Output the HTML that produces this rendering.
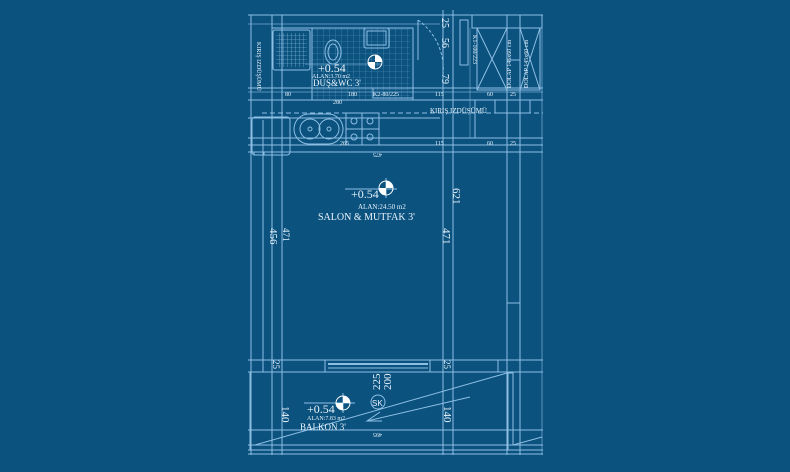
<!DOCTYPE html>
<html><head><meta charset="utf-8"><style>
html,body{margin:0;padding:0;background:#0b527f;}
svg{display:block}
text{font-family:"Liberation Serif",serif;fill:#e8f3fb}
.s{font-family:"Liberation Sans",sans-serif}
</style></head><body>
<svg width="790" height="472" viewBox="0 0 790 472" xmlns="http://www.w3.org/2000/svg">
<defs>
<pattern id="tile" width="6" height="6" patternUnits="userSpaceOnUse"><path d="M6 0V6M0 6H6" stroke="#7fb8e0" stroke-width="0.6" fill="none" opacity="0.7"/></pattern>
<pattern id="tile2" width="4" height="4" patternUnits="userSpaceOnUse"><path d="M4 0V4M0 4H4" stroke="#a8d4f2" stroke-width="0.6" fill="none"/></pattern>
</defs>
<rect width="790" height="472" fill="#0b527f"/>
<g stroke="#9ccbee" stroke-width="1" fill="none" opacity="0.9">
<line x1="248" y1="15" x2="543" y2="15"/>
<line x1="248" y1="24" x2="440" y2="24" opacity="0.6"/>
<line x1="251" y1="15" x2="251" y2="455"/>
<line x1="263" y1="120" x2="263" y2="360"/>
<line x1="272" y1="15" x2="272" y2="455"/>
<line x1="282" y1="15" x2="282" y2="455"/>
<line x1="443" y1="10" x2="443" y2="455"/>
<line x1="453" y1="10" x2="453" y2="455"/>
<line x1="507" y1="15" x2="507" y2="455"/>
<line x1="520" y1="15" x2="520" y2="455"/>
<line x1="542" y1="15" x2="542" y2="455" opacity="0.6"/>
<line x1="248" y1="88" x2="543" y2="88"/>
<line x1="248" y1="92" x2="543" y2="92" opacity="0.6"/>
<line x1="248" y1="100" x2="543" y2="100"/>
<line x1="262" y1="113" x2="543" y2="113" stroke-dasharray="5 3"/>
<line x1="248" y1="118" x2="440" y2="118"/>
<line x1="248" y1="138" x2="543" y2="138"/>
<line x1="248" y1="145" x2="543" y2="145"/>
<line x1="248" y1="152" x2="543" y2="152"/>
<rect x="272" y="28" width="141" height="72"/>
<rect x="312" y="28" width="98" height="72" fill="url(#tile)" stroke="none"/>
<line x1="312" y1="28" x2="312" y2="100"/>
<rect x="273" y="30" width="37" height="40" rx="2"/>
<rect x="276" y="33" width="31" height="34" fill="url(#tile2)" stroke="none"/>
<ellipse cx="333" cy="52" rx="8" ry="12"/>
<ellipse cx="333" cy="52" rx="5" ry="8"/>
<rect x="364" y="28" width="25" height="20" rx="2"/>
<rect x="367" y="31" width="19" height="14"/>
<rect x="373" y="88" width="40" height="10"/>
<path d="M418 20 A60 60 0 0 1 443 75" stroke-dasharray="3 2"/>
<line x1="418" y1="20" x2="418" y2="60"/>
<rect x="460" y="20" width="8" height="45"/>
<rect x="472" y="15" width="70" height="13"/>
<rect x="477" y="28" width="30" height="62"/>
<line x1="477" y1="28" x2="507" y2="90"/><line x1="507" y1="28" x2="477" y2="90"/>
<rect x="507" y="60" width="13" height="30"/>
<rect x="520" y="28" width="20" height="62"/>
<line x1="520" y1="28" x2="540" y2="90"/><line x1="540" y1="28" x2="520" y2="90"/>
<rect x="495" y="100" width="35" height="13"/>
<line x1="475" y1="100" x2="475" y2="138"/>
<line x1="470" y1="28" x2="470" y2="138" opacity="0.5"/>
<rect x="252" y="117" width="38" height="38" rx="3"/>
<rect x="254" y="152" width="10" height="3"/>
<rect x="294" y="114" width="49" height="30" rx="15"/>
<circle cx="310" cy="129" r="10"/><circle cx="329" cy="129" r="10"/>
<circle cx="310" cy="129" r="2"/><circle cx="329" cy="129" r="2"/>
<rect x="346" y="113" width="33" height="32"/>
<path d="M362 113V145M346 129H379"/>
<circle cx="354" cy="121" r="3"/><circle cx="370" cy="121" r="3"/><circle cx="354" cy="137" r="3"/><circle cx="370" cy="137" r="3"/>
<line x1="507" y1="303" x2="520" y2="303"/>
<line x1="248" y1="360" x2="543" y2="360"/>
<line x1="248" y1="372" x2="543" y2="372"/>
<line x1="263" y1="360" x2="263" y2="372"/>
<line x1="325" y1="360" x2="325" y2="372"/>
<line x1="430" y1="360" x2="430" y2="372"/>
<line x1="498" y1="360" x2="498" y2="372"/>
<line x1="328" y1="364" x2="428" y2="364" stroke-width="2"/>
<line x1="328" y1="368" x2="428" y2="368"/>
<line x1="287" y1="372" x2="440" y2="372" stroke-dasharray="4 3"/>
<line x1="250" y1="372" x2="250" y2="450"/>
<line x1="508" y1="373" x2="508" y2="450"/>
<line x1="248" y1="430" x2="543" y2="430"/>
<line x1="248" y1="445" x2="543" y2="445"/>
<line x1="248" y1="450" x2="543" y2="450"/>
<line x1="248" y1="454" x2="543" y2="454"/>
<line x1="255" y1="445" x2="507" y2="373"/>
<line x1="470" y1="397" x2="367" y2="421"/>
<path d="M380 412 L367 421 L382 421"/>
<rect x="508" y="373" width="5" height="72"/>
<line x1="513" y1="445" x2="542" y2="437"/>
<circle cx="378" cy="402" r="7"/>
<line x1="345" y1="189" x2="397" y2="189"/><line x1="386" y1="178" x2="386" y2="198"/>
<line x1="305" y1="64" x2="382" y2="64" opacity="0.6"/>
<line x1="304" y1="403" x2="355" y2="403"/><line x1="343" y1="393" x2="343" y2="413"/>
</g>
<g fill="#fff">
<circle cx="386" cy="188" r="7" fill="none" stroke="#fff"/>
<path d="M386 188 V181 A7 7 0 0 1 393 188Z M386 188 V195 A7 7 0 0 1 379 188Z"/>
<circle cx="375" cy="62" r="7" fill="none" stroke="#fff"/>
<path d="M375 62 V55 A7 7 0 0 1 382 62Z M375 62 V69 A7 7 0 0 1 368 62Z"/>
<circle cx="343" cy="403" r="7" fill="none" stroke="#fff"/>
<path d="M343 403 V396 A7 7 0 0 1 350 403Z M343 403 V410 A7 7 0 0 1 336 403Z"/>
</g>
<text x="351" y="198" font-size="12">+0.54</text>
<text x="358" y="209" font-size="7">ALAN:24.50 m2</text>
<text x="318" y="220" font-size="10">SALON &amp; MUTFAK 3'</text>
<text x="318" y="72" font-size="12">+0.54</text>
<text x="312" y="78" font-size="6">ALAN:3.70 m2</text>
<text x="313" y="86" font-size="9">DUŞ&amp;WC 3'</text>
<text x="307" y="413" font-size="12">+0.54</text>
<text x="307" y="420" font-size="6">ALAN:7.83 m2</text>
<text x="300" y="430" font-size="9">BALKON 3'</text>
<text x="372" y="406" font-size="8" class="s">SK</text>
<text x="373" y="96" font-size="6">K2-80/225</text>
<text x="430" y="113" font-size="7">KIRIŞ IZDÜŞÜMÜ</text>
<g font-size="9" fill="#e8f3fb">
<text transform="translate(283,228) rotate(90)">471</text>
<text transform="translate(270,228) rotate(90)" font-size="11">456</text>
<text transform="translate(443,228) rotate(90)" font-size="11">471</text>
<text transform="translate(453,188) rotate(90)" font-size="11">621</text>
<text transform="translate(442,18) rotate(90)" font-size="10">25</text>
<text transform="translate(442,38) rotate(90)" font-size="10">56</text>
<text transform="translate(442,74) rotate(90)" font-size="10">79</text>
<text transform="translate(380,390) rotate(-90)" font-size="11">225</text>
<text transform="translate(391,390) rotate(-90)" font-size="11">200</text>
<text transform="translate(282,406) rotate(90)" font-size="11">140</text>
<text transform="translate(444,406) rotate(90)" font-size="11">140</text>
<text transform="translate(273,360) rotate(90)" font-size="9">25</text>
<text transform="translate(444,360) rotate(90)" font-size="9">25</text>
<text transform="translate(473,35) rotate(90)" font-size="6">K1-100/223</text>
<text transform="translate(511,88) rotate(-90)" font-size="6">DOLAP 145x60 cm</text>
<text transform="translate(528,88) rotate(-90)" font-size="6">DOLAP 145x60 cm</text>
<text transform="translate(257,42) rotate(90)" font-size="6">KIRIŞ IZDÜŞÜMÜ</text>
<text x="370" y="157" font-size="6" transform="rotate(180 376 155)">475</text>
<text x="370" y="437" font-size="6" transform="rotate(180 376 435)">495</text>
<text x="285" y="96" font-size="6">80</text>
<text x="348" y="96" font-size="6">180</text>
<text x="333" y="104" font-size="6">280</text>
<text x="435" y="96" font-size="6">115</text>
<text x="435" y="145" font-size="6">115</text>
<text x="487" y="96" font-size="6">60</text>
<text x="487" y="145" font-size="6">60</text>
<text x="510" y="96" font-size="6">25</text>
<text x="510" y="145" font-size="6">25</text>
<text x="340" y="145" font-size="6">265</text>
</g>
</svg>
</body></html>
